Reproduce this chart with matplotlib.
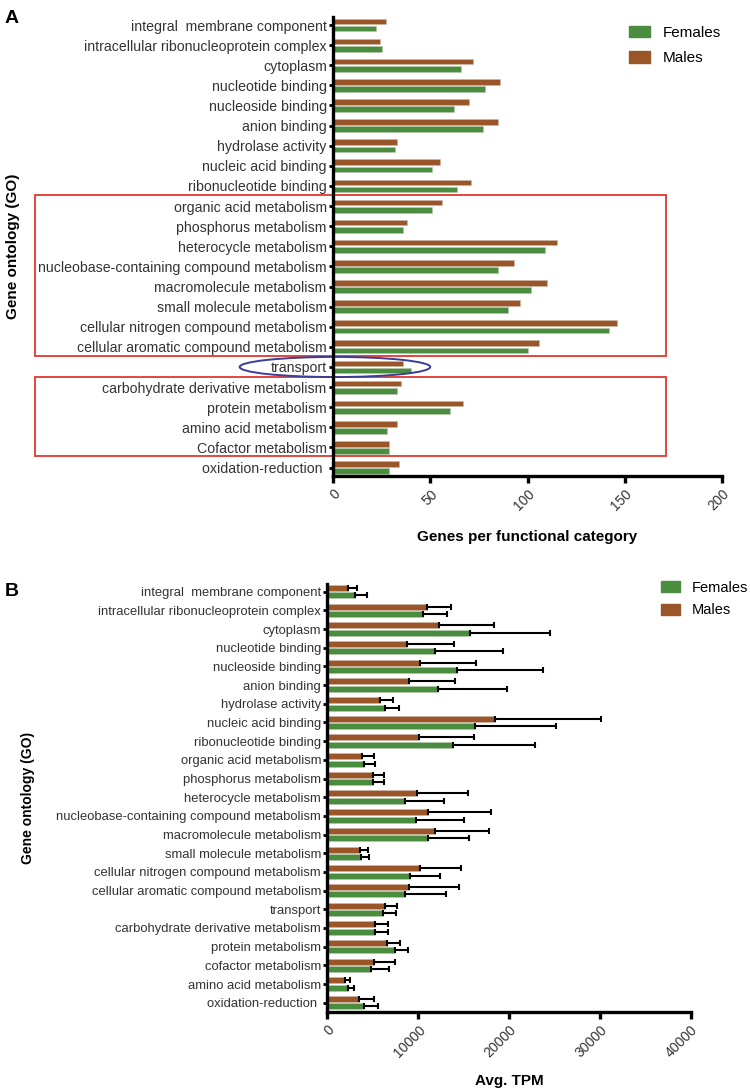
import matplotlib
matplotlib.use("Agg")
import matplotlib.pyplot as plt
from matplotlib.patches import Rectangle, Ellipse, Patch
import numpy as np

plt.rcParams['font.family'] = ['Liberation Sans', 'DejaVu Sans']

# Panel A: genes per functional category
cats_a = ["integral  membrane component", "intracellular ribonucleoprotein complex",
          "cytoplasm", "nucleotide binding", "nucleoside binding", "anion binding",
          "hydrolase activity", "nucleic acid binding", "ribonucleotide binding",
          "organic acid metabolism", "phosphorus metabolism", "heterocycle metabolism",
          "nucleobase-containing compound metabolism", "macromolecule metabolism",
          "small molecule metabolism", "cellular nitrogen compound metabolism",
          "cellular aromatic compound metabolism", "transport",
          "carbohydrate derivative metabolism", "protein metabolism",
          "amino acid metabolism", "Cofactor metabolism", "oxidation-reduction "]
males_a = [27, 24, 72, 86, 70, 85, 33, 55, 71, 56, 38, 115, 93, 110, 96, 146, 106,
           36, 35, 67, 33, 29, 34]
females_a = [22, 25, 66, 78, 62, 77, 32, 51, 64, 51, 36, 109, 85, 102, 90, 142, 100,
             40, 33, 60, 28, 29, 29]
xticks_a = [0, 50, 100, 150, 200]

# Panel B: average TPM with error bars
cats_b = ["integral  membrane component", "intracellular ribonucleoprotein complex",
          "cytoplasm", "nucleotide binding", "nucleoside binding", "anion binding",
          "hydrolase activity", "nucleic acid binding", "ribonucleotide binding",
          "organic acid metabolism", "phosphorus metabolism", "heterocycle metabolism",
          "nucleobase-containing compound metabolism", "macromolecule metabolism",
          "small molecule metabolism", "cellular nitrogen compound metabolism",
          "cellular aromatic compound metabolism", "transport",
          "carbohydrate derivative metabolism", "protein metabolism",
          "cofactor metabolism", "amino acid metabolism", "oxidation-reduction "]
males_b = [2300, 11000, 12300, 8800, 10200, 9000, 5800, 18500, 10100, 3800, 5000,
           9900, 11100, 11900, 3600, 10200, 9000, 6300, 5200, 6600, 5100, 1900, 3500]
males_b_err = [1000, 2650, 6000, 5100, 6200, 5100, 1400, 11600, 6100, 1300, 1200,
               5600, 6900, 5850, 900, 4500, 5500, 1400, 1450, 1400, 2400, 650, 1600]
females_b = [3050, 10550, 15700, 11900, 14300, 12200, 6300, 16300, 13800, 4050, 5000,
             8500, 9800, 11100, 3700, 9100, 8500, 6100, 5300, 7400, 4800, 2250, 4000]
females_b_err = [1300, 2600, 8800, 7450, 9400, 7600, 1600, 8900, 9100, 1250, 1250,
                 4300, 5300, 4450, 850, 3300, 4600, 1450, 1350, 1500, 2000, 650, 1600]
xticks_b = [0, 10000, 20000, 30000, 40000]

GREEN = '#4b8d3e'
BROWN = '#9a5628'

fig = plt.figure(figsize=(7.5, 10.89), dpi=100)


def estilo_ejes(ax, ticks, tam_etiqueta):
    for lado in ['top', 'right']:
        ax.spines[lado].set_visible(False)
    for lado in ['left', 'bottom']:
        ax.spines[lado].set_linewidth(2.4)
    ax.tick_params(axis='y', length=3, width=2, pad=1.5, labelsize=tam_etiqueta,
                   colors='black', labelcolor='#333333')
    ax.tick_params(axis='x', length=5, width=2.4, pad=3, labelsize=10)
    ax.set_xticks(ticks)
    ax.set_xticklabels([str(t) for t in ticks], rotation=45, ha='right',
                       va='top', rotation_mode='anchor', color='#333333')


# ---- Panel A ----
axA = fig.add_axes([0.444, 0.5629, 0.5187, 0.4215])
y = np.arange(len(cats_a))
axA.barh(y - 0.18, males_a, height=0.28, color=BROWN, edgecolor='#c9b9a9', linewidth=0.4)
axA.barh(y + 0.18, females_a, height=0.28, color=GREEN, edgecolor='#b9c9b0', linewidth=0.4)
axA.set_yticks(y)
axA.set_yticklabels(cats_a)
axA.set_ylim(22.42, -0.4)
axA.set_xlim(0, 200)
estilo_ejes(axA, xticks_a, 10.2)
axA.set_xlabel("Genes per functional category", fontsize=11, fontweight='bold', labelpad=12)
axA.set_ylabel("Gene ontology (GO)", fontsize=11, fontweight='bold')
axA.yaxis.set_label_coords(-0.805, 0.5)

# cajas rojas y elipse azul
for y0, y1 in [(8.45, 16.47), (17.5, 21.45)]:
    axA.add_patch(Rectangle((-153, y0), 324, y1 - y0, fill=False, edgecolor='#e4453d',
                            linewidth=1.4, clip_on=False))
axA.add_patch(Ellipse((1, 17.0), 98, 1.0, fill=False, edgecolor='#3b3d96',
                      linewidth=1.4, clip_on=False))

axA.legend(handles=[Patch(color=GREEN, label='Females'), Patch(color=BROWN, label='Males')],
           loc='upper left', bbox_to_anchor=(0.82, 0.989), bbox_transform=fig.transFigure,
           frameon=False, fontsize=11, handlelength=1.4, handleheight=0.8,
           labelspacing=0.75, handletextpad=0.8)
fig.text(0.006, 0.983, "A", fontsize=14, fontweight='bold', va='center')

# ---- Panel B ----
axB = fig.add_axes([0.4364, 0.0710, 0.4845, 0.3927])
y = np.arange(len(cats_b))
axB.barh(y - 0.2, males_b, height=0.32, color=BROWN, edgecolor='#c9b9a9', linewidth=0.4,
         xerr=[np.zeros(len(males_b)), males_b_err],
         error_kw=dict(ecolor='black', elinewidth=1.5, capsize=2, capthick=1.5))
axB.barh(y + 0.2, females_b, height=0.32, color=GREEN, edgecolor='#b9c9b0', linewidth=0.4,
         xerr=[np.zeros(len(females_b)), females_b_err],
         error_kw=dict(ecolor='black', elinewidth=1.5, capsize=2, capthick=1.5))
axB.set_yticks(y)
axB.set_yticklabels(cats_b)
axB.set_ylim(22.48, -0.41)
axB.set_xlim(0, 40000)
estilo_ejes(axB, xticks_b, 9.4)
axB.set_xlabel("Avg. TPM", fontsize=11, fontweight='bold', labelpad=10)
axB.set_ylabel("Gene ontology (GO)", fontsize=10, fontweight='bold')
axB.yaxis.set_label_coords(-0.804, 0.5)

axB.legend(handles=[Patch(color=GREEN, label='Females'), Patch(color=BROWN, label='Males')],
           loc='upper left', bbox_to_anchor=(0.864, 0.4788), bbox_transform=fig.transFigure,
           frameon=False, fontsize=10.5, handlelength=1.3, handleheight=0.8,
           labelspacing=0.6, handletextpad=0.8)
fig.text(0.006, 0.457, "B", fontsize=14, fontweight='bold', va='center')

fig.savefig("out.png", dpi=100)
